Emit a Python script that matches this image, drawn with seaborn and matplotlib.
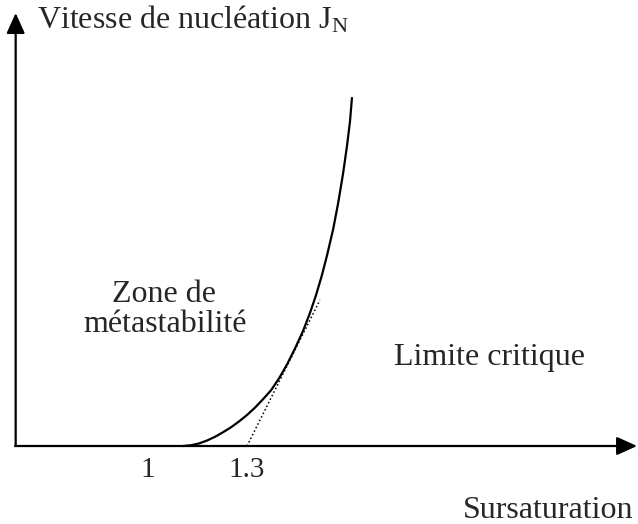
import numpy as np
import pandas as pd
import matplotlib
matplotlib.use("Agg")
import matplotlib.pyplot as plt
import seaborn as sns

# ---- data ----
supersat = [1.106, 1.130, 1.155, 1.179, 1.203, 1.227, 1.252, 1.276, 1.300, 1.324,
            1.348, 1.373, 1.397, 1.421, 1.445, 1.470, 1.491, 1.509, 1.527, 1.542,
            1.561, 1.576, 1.591, 1.603, 1.612, 1.618]
rate = [0.000, 0.007, 0.026, 0.055, 0.092, 0.137, 0.188, 0.246, 0.310, 0.383,
        0.466, 0.558, 0.676, 0.814, 0.972, 1.152, 1.332, 1.507, 1.708, 1.900,
        2.167, 2.425, 2.723, 3.001, 3.244, 3.480]
tangent_x = [1.30, 1.521]
tangent_y = [0.00, 1.46]
tick_values = [1.0, 1.3]
tick_labels = ["1", "1.3"]

sns.set_theme(style="white")
plt.rcParams["font.family"] = ["Liberation Serif", "DejaVu Serif"]
plt.rcParams["mathtext.fontset"] = "custom"
plt.rcParams["mathtext.rm"] = "Liberation Serif"
plt.rcParams["mathtext.it"] = "Liberation Serif:italic"

fig = plt.figure(figsize=(6.38, 5.24), dpi=100)
ax = fig.add_axes([0, 0, 1, 1])
XMIN, XMAX = 0.5515, 2.4848
YMIN, YMAX = -0.78, 4.46
ax.set_xlim(XMIN, XMAX)
ax.set_ylim(YMIN, YMAX)
ax.axis("off")

df = pd.DataFrame({"S": supersat, "J": rate})
sns.lineplot(data=df, x="S", y="J", ax=ax, color="black", linewidth=1.6,
             sort=False, estimator=None)
ax.plot(tangent_x, tangent_y, color="black", linestyle=(0, (1, 1.6)), linewidth=1.1)

# axes with arrows
x_left = 0.597
x_right = 2.482
y_top = 4.33
arrow = dict(arrowstyle="-|>,head_length=0.62,head_width=0.28", mutation_scale=20,
             color="black", linewidth=1.6, shrinkA=0, shrinkB=0)
ax.annotate("", xy=(x_right, 0), xytext=(x_left, 0), arrowprops=arrow)
ax.annotate("", xy=(x_left + 0.002, y_top), xytext=(x_left + 0.002, 0), arrowprops=arrow)

for v, lab in zip(tick_values, tick_labels):
    ax.text(v, -0.31, lab, ha="center", va="baseline", fontsize=21)

ax.text(0.664, 4.18, r"Vitesse de nucléation J$_{\mathrm{N}}$", ha="left", va="baseline", fontsize=23)
ax.text(2.470, -0.72, "Sursaturation", ha="right", va="baseline", fontsize=23)
ax.text(1.048, 1.44, "Zone de", ha="center", va="baseline", fontsize=23)
ax.text(1.052, 1.14, "métastabilité", ha="center", va="baseline", fontsize=23)
ax.text(2.036, 0.81, "Limite critique", ha="center", va="baseline", fontsize=23)

fig.savefig("out.png", dpi=100)
